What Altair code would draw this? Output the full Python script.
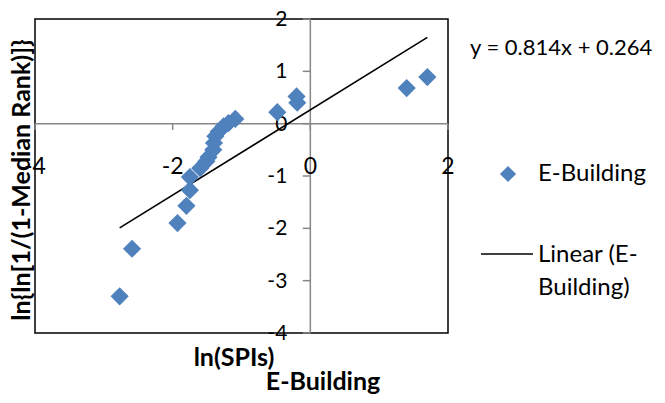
import altair as alt
import pandas as pd

# ---- data ----
x_vals = [-2.77, -2.59, -1.93, -1.80, -1.75, -1.75, -1.60, -1.51, -1.48, -1.41, -1.40,
          -1.38, -1.33, -1.26, -1.19, -1.09, -0.48, -0.19, -0.20, 1.40, 1.70]
y_vals = [-3.30, -2.39, -1.90, -1.57, -1.27, -1.02, -0.85, -0.72, -0.64, -0.50, -0.37,
          -0.24, -0.15, -0.05, 0.01, 0.09, 0.22, 0.40, 0.52, 0.68, 0.89]
slope = 0.814
intercept = 0.264
x_ticks = [-4, -2, 0, 2]
y_ticks = [-4, -3, -2, -1, 0, 1, 2]
x_domain = [-4, 2]
y_domain = [-4, 2]

FONT = "Lato"
BLUE = "#4F81BD"
GREY = "#868686"

pts = pd.DataFrame({"x": x_vals, "y": y_vals})
xmin, xmax = min(x_vals), max(x_vals)
trend = pd.DataFrame({"x": [xmin, xmax], "y": [slope * xmin + intercept, slope * xmax + intercept]})

xs = alt.Scale(domain=x_domain, nice=False, zero=False)
ys = alt.Scale(domain=y_domain, nice=False, zero=False)
X = lambda f="x": alt.X(f"{f}:Q", scale=xs, axis=None)
Y = lambda f="y": alt.Y(f"{f}:Q", scale=ys, axis=None)

# axis lines through origin
axis_lines = pd.DataFrame({"x": [x_domain[0], 0], "x2": [x_domain[1], 0],
                           "y": [0, y_domain[0]], "y2": [0, y_domain[1]]})
ax = alt.Chart(axis_lines).mark_rule(color=GREY, strokeWidth=1.5).encode(
    x=X("x"), x2="x2:Q", y=Y("y"), y2="y2:Q")

# tick marks
yt = pd.DataFrame({"y": y_ticks, "x": [-0.11] * len(y_ticks), "x2": [0] * len(y_ticks)})
ytm = alt.Chart(yt).mark_rule(color=GREY, strokeWidth=1.5).encode(
    x=X("x"), x2="x2:Q", y=Y("y"))
xt = pd.DataFrame({"x": x_ticks, "y": [0] * len(x_ticks), "y2": [-0.12] * len(x_ticks)})
xtm = alt.Chart(xt).mark_rule(color=GREY, strokeWidth=1.5).encode(
    x=X("x"), y=Y("y"), y2="y2:Q")

# tick labels
ylab = pd.DataFrame({"y": y_ticks, "x": [0] * len(y_ticks), "t": [str(v) for v in y_ticks]})
ytl = alt.Chart(ylab).mark_text(font=FONT, fontSize=21, align="right", baseline="middle",
                                dx=-23, dy=1, color="black").encode(x=X("x"), y=Y("y"), text="t:N")
xlab = pd.DataFrame({"x": x_ticks, "y": [-0.82] * len(x_ticks), "t": [str(v) for v in x_ticks]})
xtl = alt.Chart(xlab).mark_text(font=FONT, fontSize=23, align="center", baseline="middle",
                                color="black").encode(x=X("x"), y=Y("y"), text="t:N")

points = alt.Chart(pts).mark_point(shape="diamond", filled=True, size=330, opacity=1,
                                   color=BLUE).encode(x=X("x"), y=Y("y"))
line = alt.Chart(trend).mark_line(color="black", strokeWidth=1.6).encode(x=X("x"), y=Y("y"))


def txt(s, x, y, size, bold=False, align="left", angle=0, baseline="middle"):
    kw = dict(font=FONT, fontSize=size, align=align, baseline=baseline, color="black",
              fontWeight="bold" if bold else "normal")
    if angle:
        kw["angle"] = angle
    return alt.Chart(pd.DataFrame({"t": [s]})).mark_text(**kw).encode(
        x=alt.value(x), y=alt.value(y), text="t:N")


eq = txt(f"y = {slope}x + {intercept}", 435, 29, 22)
leg1 = txt("E-Building", 503, 155, 24)
leg2 = txt("Linear (E-", 503, 236, 24)
leg3 = txt("Building)", 503, 269, 24)
leg_pt = alt.Chart(pd.DataFrame({"a": [0]})).mark_point(
    shape="diamond", filled=True, size=260, opacity=1, color=BLUE).encode(
    x=alt.value(473), y=alt.value(155))
leg_line = alt.Chart(pd.DataFrame({"a": [0]})).mark_rule(color="black", strokeWidth=1.6).encode(
    x=alt.value(446), x2=alt.value(498), y=alt.value(235))
xtitle = txt("ln(SPIs)", 199, 347, 25, bold=True, align="center", baseline="alphabetic")
ctitle = txt("E-Building", 288, 371, 25, bold=True, align="center", baseline="alphabetic")
ytitle = txt("ln{ln[1/(1-Median Rank)]}", -13, 161, 25, bold=True, align="center", angle=270)

chart = alt.layer(
    ax, ytm, xtm, ytl, xtl, line, points,
    eq, leg1, leg2, leg3, leg_pt, leg_line, xtitle, ctitle, ytitle
).properties(
    width=413, height=314,
    autosize=alt.AutoSizeParams(type="none"),
    padding={"left": 27, "top": 11, "right": 209, "bottom": 62},
).configure_view(stroke="black", strokeWidth=1.5)

chart.save("out.html", embed_options={"renderer": "svg", "actions": False})
